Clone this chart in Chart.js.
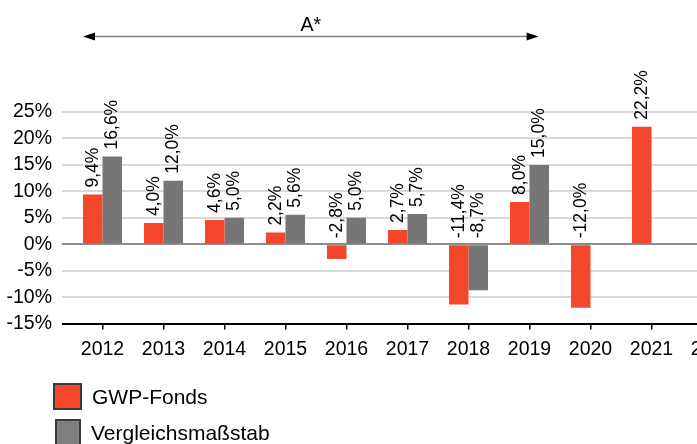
<!DOCTYPE html>
<html>
<head>
<meta charset="utf-8">
<script src="https://cdn.jsdelivr.net/npm/chart.js@4"></script>
<style>
  body { margin: 0; overflow: hidden; background: #fff; font-family: 'Liberation Sans', Arial, sans-serif; }
  #wrap { position: relative; width: 743px; height: 444px; }
  .leg { position: absolute; display: flex; align-items: center; font-size: 21px; color: #000; }
  .sw { box-sizing: border-box; border: 2px solid #3a3a3a; margin-right: 10px; }
</style>
</head>
<body>
<div id="wrap">
  <canvas id="grafic" width="743" height="444"></canvas>
  <div id="legend"></div>
</div>
<script>
const years = ['2012', '2013', '2014', '2015', '2016', '2017', '2018', '2019', '2020', '2021', '2022'];
const fonds = [9.4, 4.0, 4.6, 2.2, -2.8, 2.7, -11.4, 8.0, -12.0, 22.2, null];
const vergleich = [16.6, 12.0, 5.0, 5.6, 5.0, 5.7, -8.7, 15.0, null, null, null];
const yTicks = [-15, -10, -5, 0, 5, 10, 15, 20, 25];
const arrowFrom = '2012';
const arrowTo = '2019';
const arrowText = 'A*';

const fontFam = "'Liberation Sans', Arial, sans-serif";
const red = '#f4462a';
const grey = '#767676';

const fmt = v => v.toFixed(1).replace('.', ',') + '%';

// rotated value labels above the bars (negative ones sit above zero line)
const valueLabels = {
  id: 'valueLabels',
  afterDatasetsDraw(chart) {
    const c = chart.ctx;
    c.save();
    c.font = '17.5px ' + fontFam;
    c.fillStyle = '#000';
    c.textAlign = 'left';
    c.textBaseline = 'middle';
    chart.data.datasets.forEach((ds, i) => {
      chart.getDatasetMeta(i).data.forEach((bar, j) => {
        const v = ds.data[j];
        if (v === null) return;
        const y = v >= 0 ? bar.y : bar.base;
        c.save();
        c.translate(bar.x, y - 7);
        c.rotate(-Math.PI / 2);
        c.fillText(fmt(v), 0, 0);
        c.restore();
      });
    });
    c.restore();
  }
};

// period arrow above the plot
const periodArrow = {
  id: 'periodArrow',
  afterDraw(chart) {
    const x = chart.scales.x;
    const w = x.getPixelForValue(1) - x.getPixelForValue(0);
    const x1 = x.getPixelForValue(years.indexOf(arrowFrom)) - w * 0.32;
    const x2 = x.getPixelForValue(years.indexOf(arrowTo)) + w * 0.15;
    const y = 36.5;
    const c = chart.ctx;
    c.save();
    c.strokeStyle = '#808080';
    c.lineWidth = 1.3;
    c.beginPath();
    c.moveTo(x1 + 10, y);
    c.lineTo(x2 - 10, y);
    c.stroke();
    c.fillStyle = '#000';
    c.beginPath();
    c.moveTo(x1, y); c.lineTo(x1 + 12, y - 4); c.lineTo(x1 + 12, y + 4);
    c.closePath(); c.fill();
    c.beginPath();
    c.moveTo(x2, y); c.lineTo(x2 - 12, y - 4); c.lineTo(x2 - 12, y + 4);
    c.closePath(); c.fill();
    c.font = '19.5px ' + fontFam;
    c.textAlign = 'center';
    c.textBaseline = 'alphabetic';
    c.fillText(arrowText, (x1 + x2) / 2, 31);
    c.restore();
  }
};

const data = {
  labels: years,
  datasets: [
    { label: 'GWP-Fonds', data: fonds, backgroundColor: red, legendColor: red },
    { label: 'Vergleichsmaßstab', data: vergleich, backgroundColor: grey, legendColor: '#808080' }
  ]
};

new Chart(document.getElementById('grafic'), {
  type: 'bar',
  data: data,
  options: {
    responsive: false,
    animation: false,
    categoryPercentage: 0.64,
    barPercentage: 1.0,
    layout: { padding: { top: 112, left: 6, right: 0, bottom: 75 } },
    plugins: { legend: { display: false }, tooltip: { enabled: false } },
    scales: {
      x: {
        grid: { drawOnChartArea: false, offset: false, drawTicks: true, tickLength: 6, color: '#000', lineWidth: 1.5 },
        border: { display: true, color: '#000', width: 2 },
        ticks: { color: '#000', font: { size: 19.5, family: fontFam }, padding: 8, maxRotation: 0, autoSkip: false }
      },
      y: {
        min: yTicks[0],
        max: yTicks[yTicks.length - 1],
        afterBuildTicks: s => { s.ticks = yTicks.map(v => ({ value: v })); },
        afterFit: s => { s.width = 66; },
        grid: {
          tickLength: 10,
          lineWidth: 2,
          color: ctx => ctx.tick.value === 0 ? '#8c8c8c' : (ctx.tick.value === yTicks[0] ? '#000' : '#d9d9d9')
        },
        border: { display: false },
        ticks: { color: '#000', font: { size: 19.5, family: fontFam }, padding: 10, autoSkip: false, callback: v => v + '%' }
      }
    }
  },
  plugins: [valueLabels, periodArrow]
});

// legend below the chart, one item per row
const legend = document.getElementById('legend');
data.datasets.forEach((ds, i) => {
  const row = document.createElement('div');
  row.className = 'leg';
  row.style.left = (53 + i * 2) + 'px';
  row.style.top = (383 + i * 36) + 'px';
  const sw = document.createElement('div');
  sw.className = 'sw';
  sw.style.width = (29 - i * 3) + 'px';
  sw.style.height = '27px';
  sw.style.background = ds.legendColor;
  row.appendChild(sw);
  const t = document.createElement('span');
  t.textContent = ds.label;
  row.appendChild(t);
  legend.appendChild(row);
});
</script>
</body>
</html>
